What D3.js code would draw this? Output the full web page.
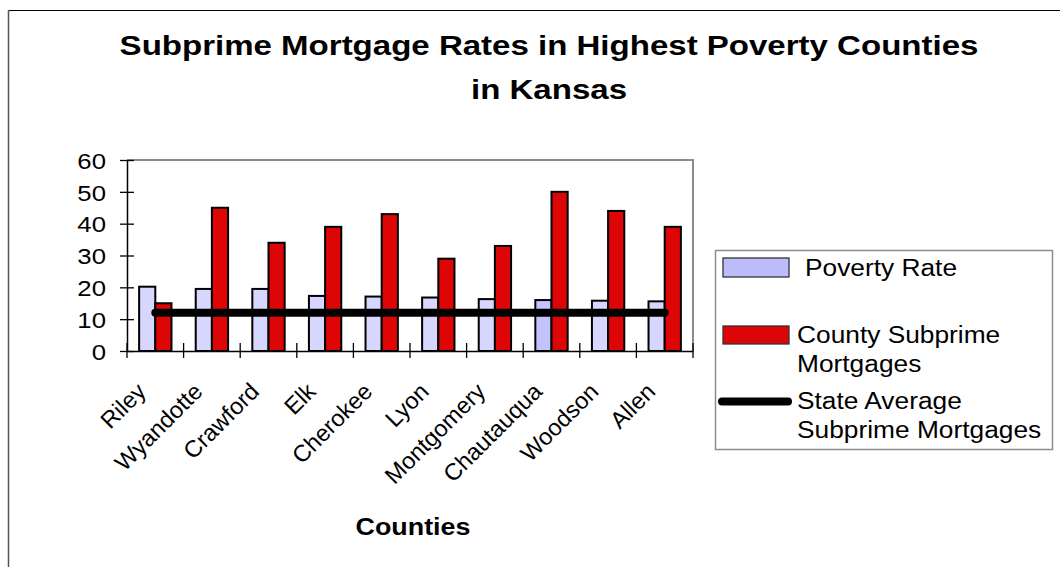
<!DOCTYPE html>
<html>
<head>
<meta charset="utf-8">
<script src="https://cdn.jsdelivr.net/npm/d3@7/dist/d3.min.js"></script>
<style>
  body { margin: 0; background: #fff; }
  text { font-family: "Liberation Sans", Arial, sans-serif; fill: #000; }
</style>
</head>
<body>
<svg width="1060" height="567"></svg>
<script>
// data
var counties = ["Riley", "Wyandotte", "Crawford", "Elk", "Cherokee",
    "Lyon", "Montgomery", "Chautauqua", "Woodson", "Allen"];
var povertyRate = [20.2, 19.5, 19.5, 17.3, 17.1, 16.8, 16.3, 16.0, 15.8, 15.6];
var countySubprime = [15, 45, 34, 39, 43, 29, 33, 50, 44, 39];
var stateAverage = [12, 12, 12, 12, 12, 12, 12, 12, 12, 12];
var yTicks = [0, 10, 20, 30, 40, 50, 60];
var seriesNames = ["Poverty Rate", "County Subprime Mortgages", "State Average Subprime Mortgages"];

var plotLeft = 127, plotRight = 693, plotTop = 160, plotBottom = 351;
var sx = 1.12; // the original text is a bit wider than Arial

var svg = d3.select("svg");

var rows = counties.map((c, i) => ({
    county: c,
    poverty: povertyRate[i],
    subprime: countySubprime[i],
    state: stateAverage[i]
}));

function wideText(g, px, py, size, str, anchor, bold, stretch) {
    return g.append("text")
        .attr("transform", `translate(${px},${py}) scale(${stretch || sx},1)`)
        .attr("text-anchor", anchor || "start")
        .attr("font-size", size)
        .attr("font-weight", bold ? "bold" : "normal")
        .text(str);
}

// outer chart border (only top and left edges are visible)
svg.append("line")
    .attr("x1", 8).attr("y1", 10.5).attr("x2", 1060).attr("y2", 10.5)
    .attr("stroke", "#000").attr("stroke-width", 1.2);
svg.append("line")
    .attr("x1", 8.5).attr("y1", 10).attr("x2", 8.5).attr("y2", 567)
    .attr("stroke", "#555").attr("stroke-width", 1.5);

var x = d3.scaleBand()
    .domain(counties)
    .range([plotLeft, plotRight]);

var xSub = d3.scaleBand()
    .domain(["poverty", "subprime"])
    .range([0, x.bandwidth()])
    .paddingInner(0)
    .paddingOuter(0.75);

var y = d3.scaleLinear()
    .domain([0, 60])
    .range([plotBottom, plotTop]);

// plot area border, grey on top and right
svg.append("path")
    .attr("d", `M${plotLeft},${plotTop}H${plotRight}V${plotBottom}`)
    .attr("fill", "none")
    .attr("stroke", "#8c8c8c")
    .attr("stroke-width", 2);

// bars
var groups = svg.append("g")
    .selectAll("g")
    .data(rows)
    .enter()
    .append("g")
    .attr("transform", d => `translate(${x(d.county)},0)`);

groups.append("rect")
    .attr("x", xSub("poverty"))
    .attr("y", d => y(d.poverty))
    .attr("width", xSub.bandwidth())
    .attr("height", d => y(0) - y(d.poverty))
    .attr("fill", d => d.county === "Chautauqua" ? "#c2c2ff" : "#d6d6ff")
    .attr("stroke", "#000")
    .attr("stroke-width", 2);

groups.append("rect")
    .attr("x", xSub("subprime"))
    .attr("y", d => y(d.subprime))
    .attr("width", xSub.bandwidth())
    .attr("height", d => y(0) - y(d.subprime))
    .attr("fill", "#dd0505")
    .attr("stroke", "#000")
    .attr("stroke-width", 2);

// y axis
var yAxis = d3.axisLeft(y)
    .tickValues(yTicks)
    .tickSizeInner(7)
    .tickSizeOuter(0);

var gy = svg.append("g")
    .attr("transform", `translate(${plotLeft},0)`)
    .call(yAxis);
gy.select(".domain").attr("stroke", "#000").attr("stroke-width", 1.5);
gy.selectAll(".tick line").attr("x2", 7).attr("x1", -7).attr("stroke-width", 1.3);
gy.selectAll(".tick text")
    .attr("x", 0)
    .attr("transform", `translate(-21,0) scale(${sx},1)`)
    .attr("font-size", 23)
    .attr("font-family", "Liberation Sans, Arial, sans-serif")
    .attr("fill", "#000")
    .attr("dy", "0.36em");

// x axis, ticks on category boundaries
var xAxis = d3.axisBottom(x)
    .tickSize(0)
    .tickFormat("");
var gx = svg.append("g")
    .attr("transform", `translate(0,${plotBottom})`)
    .call(xAxis);
gx.select(".domain").attr("stroke", "#000").attr("stroke-width", 1.5);

var bounds = counties.map(c => x(c)).concat([x.range()[1]]);
gx.selectAll("line.bound")
    .data(bounds)
    .enter()
    .append("line")
    .attr("class", "bound")
    .attr("x1", d => d).attr("x2", d => d)
    .attr("y1", -8).attr("y2", 7)
    .attr("stroke", "#000")
    .attr("stroke-width", 1.3);

svg.append("g")
    .selectAll("text")
    .data(counties)
    .enter()
    .append("text")
    .attr("transform", d => `translate(${x(d) + x.bandwidth() / 2 - 8},393) rotate(-45)`)
    .attr("text-anchor", "end")
    .attr("font-size", 23.5)
    .text(d => d);

// state average line
var line = d3.line()
    .x(d => x(d.county) + x.bandwidth() / 2)
    .y(d => y(d.state));

svg.append("path")
    .datum(rows)
    .attr("d", line)
    .attr("fill", "none")
    .attr("stroke", "#000")
    .attr("stroke-width", 8)
    .attr("stroke-linecap", "round");

// title
wideText(svg, 549, 55, 28, "Subprime Mortgage Rates in Highest Poverty Counties", "middle", true, 1.18);
wideText(svg, 549, 99, 28, "in Kansas", "middle", true, 1.18);

// x axis title
wideText(svg, 413, 535, 24, "Counties", "middle", true);

// legend
var lg = svg.append("g");
lg.append("rect")
    .attr("x", 715.5).attr("y", 250.5)
    .attr("width", 337).attr("height", 199)
    .attr("fill", "#fff")
    .attr("stroke", "#8c8c8c")
    .attr("stroke-width", 1.5);

lg.append("rect")
    .attr("x", 723).attr("y", 258)
    .attr("width", 66).attr("height", 19)
    .attr("fill", "#bcbcfa")
    .attr("stroke", "#333")
    .attr("stroke-width", 1.3);
wideText(lg, 805, 276, 23.5, seriesNames[0]);

lg.append("rect")
    .attr("x", 723).attr("y", 326)
    .attr("width", 66).attr("height", 18)
    .attr("fill", "#dd0505")
    .attr("stroke", "#333")
    .attr("stroke-width", 1.3);
wideText(lg, 797, 343, 23.5, "County Subprime");
wideText(lg, 797, 372, 23.5, "Mortgages");

lg.append("line")
    .attr("x1", 722).attr("x2", 788)
    .attr("y1", 401.5).attr("y2", 401.5)
    .attr("stroke", "#000")
    .attr("stroke-width", 8)
    .attr("stroke-linecap", "round");
wideText(lg, 797, 409, 23.5, "State Average");
wideText(lg, 797, 438, 23.5, "Subprime Mortgages");
</script>
</body>
</html>
